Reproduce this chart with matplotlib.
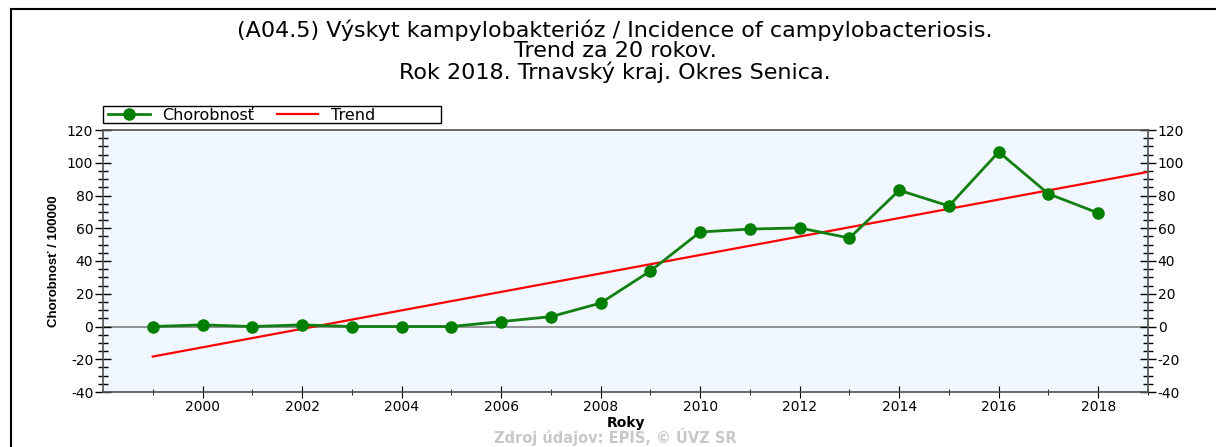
import numpy as np
import matplotlib.pyplot as plt
from matplotlib.lines import Line2D
from matplotlib.patches import Rectangle
from matplotlib.ticker import MultipleLocator, FixedLocator

plt.rcParams['font.family'] = ['DejaVu Sans']
plt.rcParams['axes.unicode_minus'] = False

years = [1999, 2000, 2001, 2002, 2003, 2004, 2005, 2006, 2007, 2008,
         2009, 2010, 2011, 2012, 2013, 2014, 2015, 2016, 2017, 2018]
chorobnost = [0, 1, 0, 1, 0, 0, 0, 3, 6, 14.3,
              33.9, 57.7, 59.5, 60.2, 54.0, 83.2, 73.6, 106.6, 81.0, 69.3]
trend_years = [1999, 2019]
title_lines = ['(A04.5) Výskyt kampylobakterióz / Incidence of campylobacteriosis.',
               'Trend za 20 rokov.',
               'Rok 2018. Trnavský kraj. Okres Senica.']

# linear trend fitted to the data, drawn to the right edge
m, c = np.polyfit(years, chorobnost, 1)
trend = [m * t + c for t in trend_years]

W, H = 1216, 447
fig = plt.figure(figsize=(W/100, H/100), dpi=100)
ax = fig.add_axes([103/W, 1 - 392/H, (1148-103)/W, (392-130)/H])
ax.set_facecolor('#f0f7ff')

ax.axhline(0, color='#808080', lw=1.2, zorder=1)
ax.plot(years, chorobnost, color='#118011', lw=2, marker='o', ms=8,
        mfc='#007f00', mec='#007f00', label='Chorobnosť', zorder=3)
ax.plot(trend_years, trend, color='#ff0000', lw=1.6, label='Trend', zorder=2)

ax.set_xlim(1998, 2019)
ax.set_ylim(-40, 120)
ax.xaxis.set_major_locator(FixedLocator(range(2000, 2019, 2)))
ax.xaxis.set_minor_locator(FixedLocator(range(1999, 2020, 2)))
ax.yaxis.set_major_locator(MultipleLocator(20))
ax.yaxis.set_minor_locator(MultipleLocator(5))
ax.tick_params(axis='y', which='both', direction='inout', left=True, right=True,
               labelleft=True, labelright=True, labelsize=10, pad=1)
ax.tick_params(axis='y', which='major', length=12, width=1)
ax.tick_params(axis='y', which='minor', length=7, width=1)
ax.tick_params(axis='x', which='major', direction='inout', length=8, labelsize=10, pad=2)
ax.tick_params(axis='x', which='minor', direction='inout', length=4)
for s in ax.spines.values():
    s.set_color('#505050')
    s.set_linewidth(1.2)

ax.set_xlabel('Roky', fontsize=10, fontweight='bold', labelpad=1)
ax.set_ylabel('Chorobnosť / 100000', fontsize=9.5, fontweight='bold', labelpad=5,
              family='Liberation Sans')

for i, line in enumerate(title_lines):
    fig.text(615/W, 1 - [30, 51, 72][i]/H, line, ha='center', va='center', fontsize=16)

# legend box drawn separately so its width matches the original
fig.add_artist(Rectangle((103/W, 1 - 123/H), (441-103)/W, 17/H, transform=fig.transFigure,
                         facecolor='white', edgecolor='black', lw=1, zorder=4))
leg = fig.legend(loc='center left', bbox_to_anchor=(108/W, 1 - 115/H), ncol=2,
                 fontsize=11.5, frameon=False, borderpad=0,
                 handlelength=2.6, columnspacing=1.4, borderaxespad=0, handletextpad=0.8)
leg.set_zorder(5)

fig.text(615/W, 1 - 437/H, 'Zdroj údajov: EPIS, © ÚVZ SR', ha='center', va='center',
         fontsize=10.5, fontweight='bold', color='#c8c8c8')

# outer frame (top and left edges)
fig.add_artist(Line2D([11/W, 11/W], [0, 1 - 9/H], color='black', lw=1.5))
fig.add_artist(Line2D([11/W, 1], [1 - 9/H, 1 - 9/H], color='black', lw=1.5))

fig.savefig('out.png', dpi=100)
